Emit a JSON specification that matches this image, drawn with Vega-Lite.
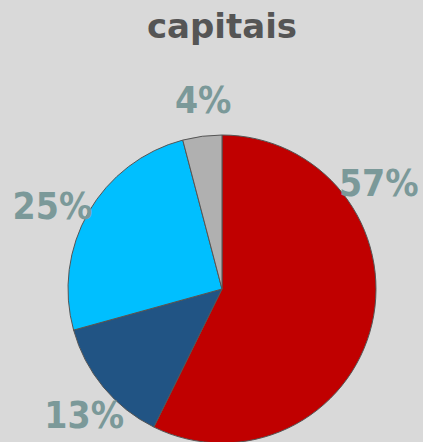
{
  "$schema": "https://vega.github.io/schema/vega-lite/v6.json",
  "width": 400,
  "height": 306,
  "autosize": {"type": "none"},
  "padding": {"left": 22, "top": 136, "right": 1, "bottom": 0},
  "background": "#d9d9d9",
  "config": {"view": {"stroke": null}},
  "title": {
    "text": "capitais",
    "font": "DejaVu Sans",
    "fontSize": 34,
    "fontWeight": "bold",
    "color": "#555555",
    "anchor": "middle",
    "frame": "group",
    "baseline": "bottom",
    "offset": 4
  },
  "data": {
    "values": [
      {"categoria": "Categoria 1", "valor": 57.3, "ordem": 1, "rotulo": "57%", "posicao": 15.7},
      {"categoria": "Categoria 2", "valor": 13.4, "ordem": 2, "rotulo": "13%", "posicao": 63.1},
      {"categoria": "Categoria 3", "valor": 25.2, "ordem": 3, "rotulo": "25%", "posicao": 82.1},
      {"categoria": "Categoria 4", "valor": 4.1, "ordem": 4, "rotulo": "4%", "posicao": 98.4}
    ]
  },
  "layer": [
    {
      "mark": {"type": "arc", "outerRadius": 154, "stroke": "#555555", "strokeWidth": 1},
      "encoding": {
        "theta": {"field": "valor", "type": "quantitative", "stack": true},
        "order": {"field": "ordem", "type": "quantitative"},
        "color": {
          "field": "categoria",
          "type": "nominal",
          "scale": {
            "domain": ["Categoria 1", "Categoria 2", "Categoria 3", "Categoria 4"],
            "range": ["#c00000", "#215484", "#00bfff", "#b0b0b0"]
          },
          "legend": null
        }
      }
    },
    {
      "mark": {
        "type": "text",
        "radius": 188,
        "font": "DejaVu Sans Condensed",
        "fontWeight": "bold",
        "fontSize": 37,
        "fill": "#7b9999",
        "baseline": "middle",
        "align": "center"
      },
      "encoding": {
        "theta": {"field": "posicao", "type": "quantitative", "stack": null, "scale": {"domain": [0, 100]}},
        "text": {"field": "rotulo", "type": "nominal"}
      }
    }
  ]
}
